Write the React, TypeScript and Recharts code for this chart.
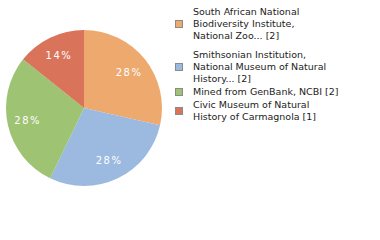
import { PieChart, Pie, Cell, Legend } from "recharts";

const sources = [
  "South African National Biodiversity Institute, National Zoo... [2]",
  "Smithsonian Institution, National Museum of Natural History... [2]",
  "Mined from GenBank, NCBI [2]",
  "Civic Museum of Natural History of Carmagnola [1]",
];
const legendLines = [
  ["South African National", "Biodiversity Institute,", "National Zoo... [2]"],
  ["Smithsonian Institution,", "National Museum of Natural", "History... [2]"],
  ["Mined from GenBank, NCBI [2]"],
  ["Civic Museum of Natural", "History of Carmagnola [1]"],
];
const counts = [2, 2, 2, 1];
const colors = ["#EEAA6E", "#9CB9DF", "#9DC373", "#D9745B"];

const data = sources.map((name, i) => ({ name, value: counts[i] }));

const RADIAN = Math.PI / 180;
const renderLabel = (props: any) => {
  const { cx, cy, midAngle, outerRadius, percent } = props;
  const r = outerRadius * 0.74;
  const x = cx + r * Math.cos(-midAngle * RADIAN);
  const y = cy + r * Math.sin(-midAngle * RADIAN);
  return (
    <text
      x={x}
      y={y}
      fill="#fff"
      textAnchor="middle"
      dominantBaseline="central"
      fontSize={10}
      letterSpacing={1.5}
      fontFamily="DejaVu Sans"
    >
      {Math.floor(percent * 100)}%
    </text>
  );
};

const entryTops = [6, 49, 86, 99];

const renderLegend = () => (
  <div style={{ position: "relative", width: 200, height: 130 }}>
    {legendLines.map((lines, i) => (
      <div
        key={i}
        style={{ position: "absolute", left: 0, top: entryTops[i], display: "flex", alignItems: "center" }}
      >
        <div
          style={{
            width: 6,
            height: 6,
            background: colors[i],
            border: "1px solid #8a8a8a",
            marginRight: 10,
          }}
        />
        <div>
          {lines.map((l, j) => (
            <div key={j} style={{ lineHeight: "12px", whiteSpace: "nowrap" }}>
              {l}
            </div>
          ))}
        </div>
      </div>
    ))}
  </div>
);

export default function App() {
  return (
    <div style={{ position: "fixed", left: 0, top: 0, width: 380, height: 240, background: "#fff" }}>
      <PieChart width={380} height={240} margin={{ top: 0, right: 0, bottom: 0, left: 0 }}>
        <Pie
          data={data}
          dataKey="value"
          nameKey="name"
          cx={84}
          cy={108}
          outerRadius={78}
          startAngle={90}
          endAngle={-270}
          stroke="none"
          label={renderLabel}
          labelLine={false}
          isAnimationActive={false}
        >
          {data.map((d, i) => (
            <Cell key={d.name} fill={colors[i]} />
          ))}
        </Pie>
        <Legend
          content={renderLegend}
          wrapperStyle={{
            position: "absolute",
            left: 175,
            top: 0,
            width: 205,
            fontFamily: "DejaVu Sans",
            fontSize: 9.5,
            color: "#222",
          }}
        />
      </PieChart>
    </div>
  );
}
